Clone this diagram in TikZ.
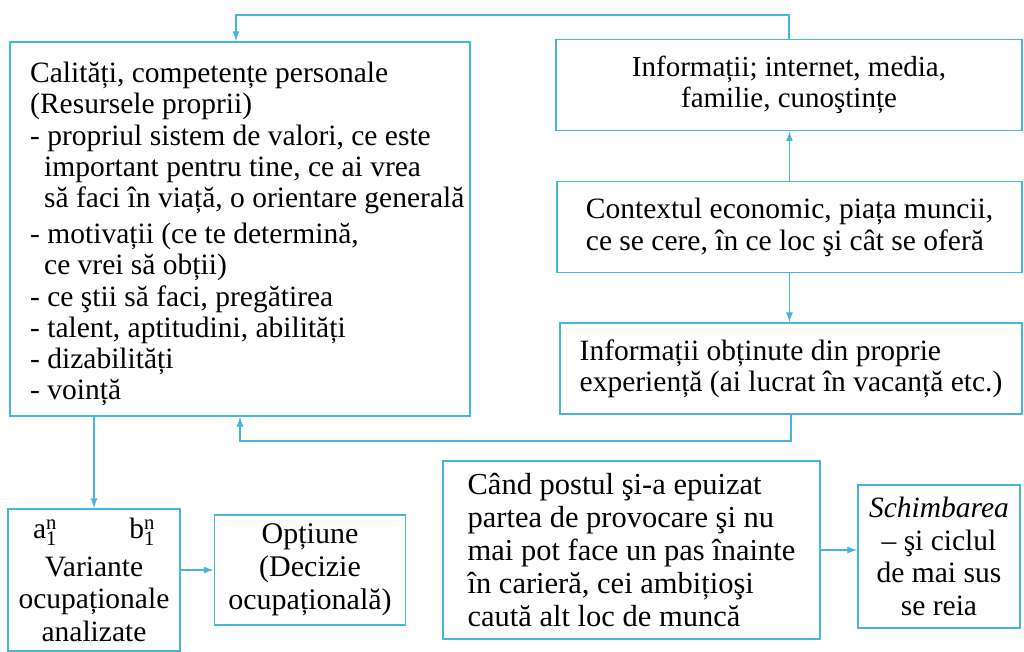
\documentclass[tikz,border=0pt]{standalone}
\usepackage{fontspec}
\setmainfont{Liberation Serif}
\usetikzlibrary{arrows.meta}
\definecolor{lineblue}{RGB}{70,182,218}
\tikzset{
  box/.style={draw=lineblue, line width=1.4pt, rectangle, inner sep=0pt, font=\fontsize{29.5}{32.5}\selectfont},
  txt/.style={inner sep=0pt, font=\fontsize{29.5}{31.2}\selectfont},
  arr/.style={draw=lineblue, line width=1.3pt, -{Latex[length=10pt,width=7pt]}}
}
\begin{document}
\begin{tikzpicture}[x=1pt,y=-1pt]
\useasboundingbox (0,0) rectangle (1024,651);
\clip (0,0) rectangle (1024,651);
% left big box
\node[box, minimum width=460pt, minimum height=374pt] (lbox) at (240,229) {};
\node[txt, anchor=north west, align=left] (ltext) at (30,62) {%
Calități, competențe personale\\
(Resursele proprii)\\
- propriul sistem de valori, ce este\\
\hspace*{14pt}important pentru tine, ce ai vrea\\
\hspace*{14pt}să faci în viață, o orientare generală\\[5pt]
- motivații (ce te determină,\\
\hspace*{14pt}ce vrei să obții)\\
- ce ştii să faci, pregătirea\\
- talent, aptitudini, abilități\\
- dizabilități\\
- voință};
% right column
\node[box, minimum width=466pt, minimum height=91pt, align=center, font=\fontsize{29}{30.5}\selectfont] (info) at (789,85) {Informații; internet, media,\\familie, cunoştințe};
\node[box, minimum width=465pt, minimum height=91pt, align=left, font=\fontsize{29.5}{32}\selectfont] (ctx) at (789.5,227) {Contextul economic, piața muncii,\\ce se cere, în ce loc şi cât se oferă};
\node[box, minimum width=462pt, minimum height=91pt, align=left, font=\fontsize{29.5}{31}\selectfont] (exp) at (791,368.5) {Informații obținute din proprie\\experiență (ai lucrat în vacanță etc.)};
% bottom row
\node[box, minimum width=172pt, minimum height=142pt, align=center] (var) at (94,580) {%
\makebox[122pt]{a$_{\mathrm{1}}^{\mathrm{n}}$\hfill b$_{\mathrm{1}}^{\mathrm{n}}$}\\[5pt]
Variante\\ocupaționale\\analizate};
\node[box, minimum width=191pt, minimum height=110pt, align=center, font=\fontsize{30}{33}\selectfont] (opt) at (310,570) {Opțiune\\(Decizie\\ocupațională)};
\node[box, minimum width=377pt, minimum height=178pt, align=left, font=\fontsize{30.5}{33}\selectfont] (cand) at (631.5,550) {%
Când postul şi-a epuizat\\partea de provocare şi nu\\mai pot face un pas înainte\\în carieră, cei ambițioşi\\caută alt loc de muncă};
\node[box, minimum width=162pt, minimum height=143pt, align=center] (sch) at (939,556.5) {%
\textit{Schimbarea}\\– şi ciclul\\de mai sus\\se reia};
% connectors
\coordinate (tc) at (236,15);
\draw[arr] (info.north) |- (tc) -- (tc |- lbox.north);
\draw[arr] (ctx.north) -- (ctx.north |- info.south);
\draw[arr] (ctx.south) -- (ctx.south |- exp.north);
\coordinate (bc) at (240,441);
\draw[arr] (exp.south) |- (bc) -- (bc |- lbox.south);
\draw[arr] (lbox.south -| var.north) -- (var.north);
\draw[arr] (opt.west -| var.east) -- (opt.west);
\draw[arr] (cand.east) -- (cand.east -| sch.west);
\end{tikzpicture}
\end{document}
